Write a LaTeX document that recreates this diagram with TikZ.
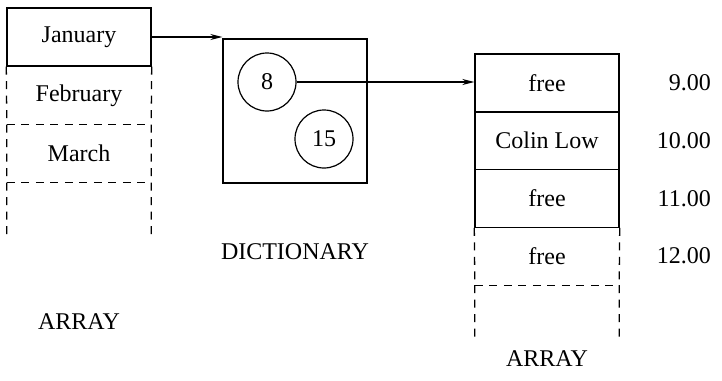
\documentclass[tikz,border=0pt]{standalone}
\usepackage{fontspec}
\setmainfont{Liberation Serif}
\usetikzlibrary{arrows.meta}
\begin{document}
\begin{tikzpicture}[x=1pt,y=-1pt,
  every node/.style={font=\fontsize{24}{28}\selectfont, inner sep=0pt},
  cell/.style={draw, line width=1.4pt, minimum width=144pt, minimum height=57.7pt},
  txt/.style={minimum width=144pt, minimum height=57.7pt},
  dsh/.style={line width=1.3pt, dash pattern=on 8pt off 6.5pt},
  arr/.style={line width=1.3pt, -{Stealth[length=12pt,width=6pt]}},
  circ/.style={draw, circle, line width=1.2pt, minimum size=58pt},
  lab/.style={}
]
\useasboundingbox (0,0) rectangle (722,380);
% left array
\node[cell] (jan) at (79,37) {January};
\node[txt] (feb) at (79,95.5) {February};
\node[txt] (mar) at (79,153.5) {March};
\draw[dsh] (jan.south west) -- (feb.south west) (feb.south west) -- (mar.south west) (mar.south west) -- ++(0,56);
\draw[dsh] (jan.south east) -- (feb.south east) (feb.south east) -- (mar.south east) (mar.south east) -- ++(0,56);
\draw[dsh] (feb.south west) -- (feb.south east);
\draw[dsh] (mar.south west) -- (mar.south east);
\node[lab] (arr1) at (79,322) {ARRAY};
% dictionary
\node[draw, line width=1.3pt, minimum width=144pt, minimum height=144pt] (dict) at (295,111) {};
\node[circ] (c8) at (267,82) {8};
\node[circ] (c15) at (324,139) {15};
\node[lab] (dlab) at (295,252) {DICTIONARY};
% right array
\node[cell] (r1) at (547,83) {free};
\node[cell] (r2) at (547,140.7) {Colin Low};
\node[cell] (r3) at (547,198.4) {free};
\node[txt] (r4) at (547,256.1) {free};
\draw[dsh] (r3.south west) -- (r4.south west) (r4.south west) -- ++(0,53);
\draw[dsh] (r3.south east) -- (r4.south east) (r4.south east) -- ++(0,53);
\draw[dsh] (r4.south west) -- (r4.south east);
\node[lab] (arr2) at (547,359) {ARRAY};
% times
\node[anchor=east] (t9) at (711,83) {9.00};
\node[anchor=east] (t10) at (711,140.7) {10.00};
\node[anchor=east] (t11) at (711,198.4) {11.00};
\node[anchor=east] (t12) at (711,256.1) {12.00};
% arrows
\draw[arr] (jan.east) -- (jan.east -| dict.west);
\draw[arr] (c8.east) -- (c8.east -| r1.west);
\end{tikzpicture}
\end{document}
